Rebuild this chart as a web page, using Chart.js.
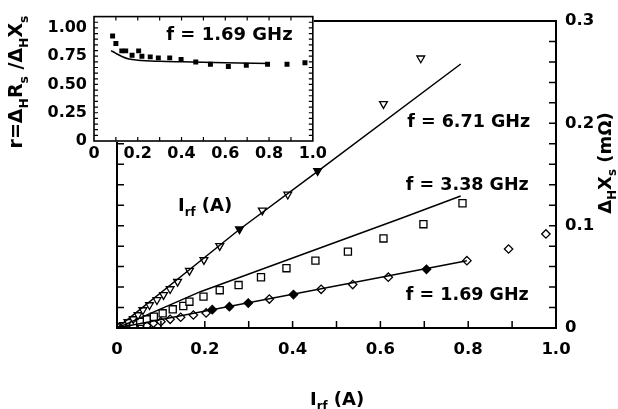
<!DOCTYPE html>
<html>
<head>
<meta charset="utf-8">
<script src="https://cdn.jsdelivr.net/npm/chart.js@4.4.1/dist/chart.umd.min.js"></script>
<style>
  html, body { margin: 0; padding: 0; background: #fff; }
  #wrap { position: relative; width: 618px; height: 409px; }
  #main, #inset { position: absolute; left: 0; top: 0; }
</style>
</head>
<body>
<div id="wrap">
  <canvas id="main" width="618" height="409"></canvas>
  <canvas id="inset" width="330" height="175"></canvas>
</div>
<script>
// f = 6.71 GHz, open triangles (A, mOhm)
var triX = [0.008, 0.015, 0.025, 0.037, 0.048, 0.059, 0.074, 0.091, 0.106, 0.121, 0.138, 0.165, 0.198, 0.234, 0.279, 0.331, 0.389, 0.457, 0.607, 0.692];
var triY = [0.0015, 0.003, 0.0059, 0.0088, 0.0127, 0.0176, 0.0225, 0.0274, 0.0323, 0.0381, 0.0453, 0.056, 0.0665, 0.0802, 0.0966, 0.1149, 0.1305, 0.1535, 0.219, 0.2636];
var triFilled = [279, 457]; // x*1000 of the points drawn solid

// f = 3.38 GHz, open squares
var sqX = [0.008, 0.018, 0.028, 0.037, 0.053, 0.068, 0.084, 0.104, 0.127, 0.151, 0.165, 0.197, 0.234, 0.277, 0.328, 0.386, 0.452, 0.526, 0.607, 0.698, 0.787];
var sqY = [0.001, 0.0018, 0.0027, 0.0034, 0.006, 0.0085, 0.011, 0.0144, 0.0183, 0.0215, 0.0257, 0.0306, 0.0369, 0.042, 0.0496, 0.0584, 0.0658, 0.0746, 0.0875, 0.1014, 0.1219];

// f = 1.69 GHz, open diamonds
var diaX = [0.015, 0.03, 0.045, 0.057, 0.068, 0.083, 0.100, 0.121, 0.145, 0.174, 0.203, 0.217, 0.256, 0.299, 0.347, 0.402, 0.465, 0.537, 0.618, 0.705, 0.797, 0.892, 0.977];
var diaY = [0.0003, 0.0006, 0.001, 0.0015, 0.0022, 0.0046, 0.0062, 0.0085, 0.0105, 0.0127, 0.0147, 0.0179, 0.0208, 0.0244, 0.0283, 0.0327, 0.0378, 0.0425, 0.0496, 0.0574, 0.0658, 0.0772, 0.0919];
var diaFilled = [217, 256, 299, 402, 705];

// fitted curves
var fit671X = [0, 0.278, 0.457, 0.783];
var fit671Y = [0, 0.096, 0.153, 0.258];
var fit338X = [0, 0.19, 0.646, 0.783];
var fit338Y = [0, 0.0355, 0.107, 0.129];
var fit169X = [0, 0.797];
var fit169Y = [0, 0.0658];

// inset: r = dR/dX at 1.69 GHz
var insX = [0.085, 0.100, 0.127, 0.145, 0.174, 0.204, 0.219, 0.257, 0.294, 0.346, 0.398, 0.465, 0.532, 0.614, 0.696, 0.793, 0.882, 0.964];
var insY = [0.929, 0.863, 0.797, 0.797, 0.758, 0.797, 0.750, 0.744, 0.735, 0.735, 0.721, 0.698, 0.678, 0.658, 0.669, 0.678, 0.678, 0.692];
var insFitX = [0.078, 0.1, 0.13, 0.16, 0.2, 0.3, 0.4, 0.6, 0.8];
var insFitY = [0.80, 0.775, 0.745, 0.725, 0.715, 0.705, 0.70, 0.692, 0.685];

var xTicks = [0, 0.2, 0.4, 0.6, 0.8, 1.0];

Chart.defaults.font.family = "'DejaVu Sans', sans-serif";
Chart.defaults.font.weight = 'bold';
Chart.defaults.color = '#000';

function pts(xs, ys) { return xs.map(function (x, i) { return { x: x, y: ys[i] }; }); }
function fills(xs, solid) {
  return xs.map(function (x) { return solid.indexOf(Math.round(x * 1000)) >= 0 ? '#000' : '#fff'; });
}

// text with subscripts: parts = [[text, isSub], ...]
function drawRich(ctx, parts, x, y, size) {
  var cx = x;
  parts.forEach(function (p) {
    var s = p[1] ? size * 0.65 : size;
    ctx.font = 'bold ' + s + "px 'DejaVu Sans'";
    ctx.fillText(p[0], cx, y + (p[1] ? size * 0.3 : 0));
    cx += ctx.measureText(p[0]).width;
  });
}
function richWidth(ctx, parts, size) {
  var w = 0;
  parts.forEach(function (p) {
    ctx.font = 'bold ' + (p[1] ? size * 0.65 : size) + "px 'DejaVu Sans'";
    w += ctx.measureText(p[0]).width;
  });
  return w;
}
function fmt(d) { return function (v) { return v === 0 ? '0' : v.toFixed(d); }; }

var mainDecor = {
  id: 'mainDecor',
  afterDraw: function (chart) {
    var ctx = chart.ctx, a = chart.chartArea, xs = chart.scales.x, ys = chart.scales.y;
    ctx.save();
    ctx.strokeStyle = '#000';
    ctx.lineWidth = 2;
    ctx.beginPath();
    ctx.moveTo(a.left, a.top); ctx.lineTo(a.left, a.bottom); ctx.lineTo(a.right, a.bottom);
    ctx.lineTo(a.right, a.top); ctx.lineTo(a.left, a.top);
    ctx.stroke();
    ctx.lineWidth = 1.5;
    ctx.beginPath();
    for (var i = 1; i < 10; i++) {
      var px = xs.getPixelForValue(i / 10);
      ctx.moveTo(px, a.bottom); ctx.lineTo(px, a.bottom - 7);
    }
    for (var j = 1; j < 15; j++) {
      var py = ys.getPixelForValue(j * 0.02);
      ctx.moveTo(a.right, py); ctx.lineTo(a.right - 7, py);
      ctx.moveTo(a.left, py); ctx.lineTo(a.left + 7, py);
    }
    ctx.stroke();

    ctx.fillStyle = '#000';
    ctx.textAlign = 'left';
    ctx.textBaseline = 'alphabetic';
    ctx.font = "bold 17.5px 'DejaVu Sans'";
    ctx.fillText('f = 6.71 GHz', xs.getPixelForValue(0.661), ys.getPixelForValue(0.1965));
    ctx.fillText('f = 3.38 GHz', xs.getPixelForValue(0.658), ys.getPixelForValue(0.1349));
    ctx.fillText('f = 1.69 GHz', xs.getPixelForValue(0.658), ys.getPixelForValue(0.0274));

    var irf = [['I', false], ['rf', true], [' (A)', false]];
    drawRich(ctx, irf, 310, 405, 18);          // main x title
    drawRich(ctx, irf, 178, 211, 18);          // inset x title

    // right axis title, rotated
    var rt = [['\u0394', false], ['H', true], ['X', false], ['s', true], [' (m\u03A9)', false]];
    var w = richWidth(ctx, rt, 18);
    ctx.translate(611, 163 + w / 2);
    ctx.rotate(-Math.PI / 2);
    drawRich(ctx, rt, 0, 0, 18);
    ctx.restore();
  }
};

new Chart(document.getElementById('main'), {
  type: 'scatter',
  data: {
    datasets: [
      { data: pts(fit671X, fit671Y), showLine: true, pointRadius: 0, borderColor: '#000', borderWidth: 1.5, order: 0 },
      { data: pts(fit338X, fit338Y), showLine: true, pointRadius: 0, borderColor: '#000', borderWidth: 1.5, order: 0 },
      { data: pts(fit169X, fit169Y), showLine: true, pointRadius: 0, borderColor: '#000', borderWidth: 1.5, order: 0 },
      { data: pts(triX, triY), pointStyle: 'triangle', rotation: 180, pointRadius: 4.5, pointBorderWidth: 1.3,
        pointBorderColor: '#000', pointBackgroundColor: fills(triX, triFilled), order: 1 },
      { data: pts(sqX, sqY), pointStyle: 'rect', pointRadius: 5, pointBorderWidth: 1.3,
        pointBorderColor: '#000', pointBackgroundColor: '#fff', order: 1 },
      { data: pts(diaX, diaY), pointStyle: 'rectRot', pointRadius: 4.2, pointBorderWidth: 1.3,
        pointBorderColor: '#000', pointBackgroundColor: fills(diaX, diaFilled), order: 1 }
    ]
  },
  options: {
    responsive: false,
    animation: false,
    layout: { padding: { left: 117, top: 21, right: 0, bottom: 0 } },
    plugins: { legend: { display: false }, tooltip: { enabled: false } },
    scales: {
      x: {
        type: 'linear', position: 'bottom', min: 0, max: 1,
        grid: { display: false, drawTicks: false }, border: { display: false },
        afterBuildTicks: function (s) { s.ticks = xTicks.map(function (v) { return { value: v }; }); },
        ticks: { callback: fmt(1), font: { size: 16.5, weight: 'bold' }, padding: 12, maxRotation: 0, autoSkip: false },
        afterFit: function (s) { s.height = 81; }
      },
      y: {
        type: 'linear', position: 'right', min: 0, max: 0.3,
        grid: { display: false, drawTicks: false }, border: { display: false },
        ticks: { stepSize: 0.1, callback: fmt(1), font: { size: 16.5, weight: 'bold' }, padding: 9 },
        afterFit: function (s) { s.width = 62; }
      }
    }
  },
  plugins: [mainDecor]
});

var insetDecor = {
  id: 'insetDecor',
  beforeDraw: function (chart) {
    var ctx = chart.ctx, a = chart.chartArea;
    ctx.save();
    ctx.fillStyle = '#fff';
    ctx.fillRect(0, 0, a.right + 1, a.bottom + 1);
    ctx.restore();
  },
  afterDraw: function (chart) {
    var ctx = chart.ctx, a = chart.chartArea, xs = chart.scales.x, ys = chart.scales.y;
    ctx.save();
    ctx.strokeStyle = '#000';
    ctx.lineWidth = 1.6;
    ctx.strokeRect(a.left, a.top, a.right - a.left, a.bottom - a.top);
    ctx.lineWidth = 1.2;
    ctx.beginPath();
    for (var i = 1; i < 10; i++) {
      var px = xs.getPixelForValue(i / 10);
      ctx.moveTo(px, a.bottom); ctx.lineTo(px, a.bottom - 4);
      ctx.moveTo(px, a.top); ctx.lineTo(px, a.top + 4);
    }
    for (var j = 1; j < 22; j++) {
      var py = ys.getPixelForValue(j * 0.05);
      ctx.moveTo(a.left, py); ctx.lineTo(a.left + 4, py);
      ctx.moveTo(a.right, py); ctx.lineTo(a.right - 4, py);
    }
    ctx.stroke();

    ctx.fillStyle = '#000';
    ctx.textAlign = 'left';
    ctx.textBaseline = 'alphabetic';
    ctx.font = "bold 18px 'DejaVu Sans'";
    ctx.fillText('f = 1.69 GHz', xs.getPixelForValue(0.33), ys.getPixelForValue(0.891));

    var yt = [['r=\u0394', false], ['H', true], ['R', false], ['s', true], [' /\u0394', false], ['H', true], ['X', false], ['s', true]];
    var w = richWidth(ctx, yt, 19);
    ctx.translate(22, 82 + w / 2);
    ctx.rotate(-Math.PI / 2);
    drawRich(ctx, yt, 0, 0, 19);
    ctx.restore();
  }
};

new Chart(document.getElementById('inset'), {
  type: 'scatter',
  data: {
    datasets: [
      { data: pts(insFitX, insFitY), showLine: true, pointRadius: 0, borderColor: '#000', borderWidth: 1.5,
        cubicInterpolationMode: 'monotone', order: 0 },
      { data: pts(insX, insY), pointStyle: 'rect', pointRadius: 3.5, pointBorderWidth: 0,
        pointBackgroundColor: '#000', order: 1 }
    ]
  },
  options: {
    responsive: false,
    animation: false,
    layout: { padding: { left: 0, top: 12, right: 12.5, bottom: 0 } },
    plugins: { legend: { display: false }, tooltip: { enabled: false } },
    scales: {
      x: {
        type: 'linear', position: 'bottom', min: 0, max: 1,
        grid: { display: false, drawTicks: false }, border: { display: false },
        afterBuildTicks: function (s) { s.ticks = xTicks.map(function (v) { return { value: v }; }); },
        ticks: { callback: fmt(1), font: { size: 16, weight: 'bold' }, padding: 3, maxRotation: 0, autoSkip: false },
        afterFit: function (s) { s.height = 34; }
      },
      y: {
        type: 'linear', position: 'left', min: 0, max: 1.1,
        grid: { display: false, drawTicks: false }, border: { display: false },
        ticks: { stepSize: 0.25, includeBounds: false, callback: fmt(2), font: { size: 16, weight: 'bold' }, padding: 7 },
        afterFit: function (s) { s.width = 94; }
      }
    }
  },
  plugins: [insetDecor]
});
</script>
</body>
</html>
